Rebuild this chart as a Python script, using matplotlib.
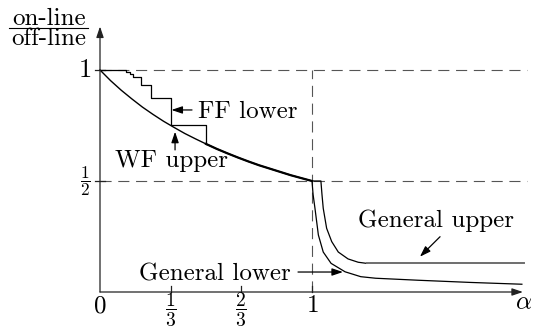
import matplotlib
matplotlib.use("Agg")
import matplotlib.pyplot as plt

plt.rcParams['mathtext.fontset'] = 'cm'
plt.rcParams['font.family'] = ['cmr10', 'DejaVu Serif']
plt.rcParams['axes.unicode_minus'] = False

# ---- data ----
# common curve (WF upper / FF lower beyond 1/2), alpha in [0, 1]
base_alpha = [0.0, 0.05, 0.1, 0.15, 0.2, 0.25, 0.3, 0.35, 0.4, 0.45, 0.5,
              0.55, 0.6, 0.65, 0.7, 0.75, 0.8, 0.85, 0.9, 0.95, 1.0]
base_ratio = [1.0, 0.952, 0.909, 0.870, 0.833, 0.800, 0.769, 0.741, 0.714, 0.690, 0.667,
              0.645, 0.625, 0.606, 0.588, 0.571, 0.556, 0.541, 0.526, 0.513, 0.5]

# FF lower staircase (left edges of steps and their levels)
ff_alpha = [0.0, 0.124, 0.140, 0.156, 0.195, 0.242, 0.333, 0.5]
ff_ratio = [1.0, 0.99, 0.98, 0.97, 0.932, 0.872, 0.752, 0.667]

# General lower bound
gl_alpha = [1.0, 1.005, 1.014, 1.03, 1.053, 1.09, 1.156, 1.23, 1.30, 1.5, 1.75, 1.99]
gl_ratio = [0.5, 0.44, 0.377, 0.257, 0.18, 0.129, 0.091, 0.069, 0.062, 0.053, 0.043, 0.035]

# General upper bound (curved part, then flat part)
gu_alpha = [1.0, 1.042, 1.047, 1.053, 1.069, 1.093, 1.124, 1.17, 1.218, 1.258]
gu_ratio = [0.5, 0.5, 0.44, 0.377, 0.287, 0.227, 0.18, 0.149, 0.134, 0.129]
gu_flat_alpha = [1.258, 2.0]
gu_flat_ratio = [0.129, 0.129]

xtick_vals = [0, 1/3, 2/3, 1]
xtick_labels = [r'$0$', r'$\dfrac{1}{3}$', r'$\dfrac{2}{3}$', r'$1$']
ytick_vals = [1.0, 0.5]
ytick_labels = [r'$1$', r'$\dfrac{1}{2}$']

# ---- figure ----
W, H = 538, 329
fig = plt.figure(figsize=(W / 100, H / 100), dpi=100)
ax = fig.add_axes([0, 0, 1, 1])
ax.set_xlim(-100 / 212, (W - 100) / 212)
ax.set_ylim((292 - H) / 222, 292 / 222)
ax.axis('off')

dash_kw = dict(color='#555555', lw=0.8, dashes=(10, 6))
ax.plot([0, 2.015], [1, 1], **dash_kw)
ax.plot([0, 2.015], [0.5, 0.5], **dash_kw)
ax.plot([1, 1], [0, 1.0], **dash_kw)

# axes with arrows
axis_col = '#222222'
head = dict(arrowstyle='-|>,head_length=0.65,head_width=0.22', color=axis_col,
            lw=0.9, mutation_scale=10, shrinkA=0, shrinkB=0)
ax.annotate('', xy=(1.995, 0), xytext=(0, 0), arrowprops=head)
ax.annotate('', xy=(0, 1.196), xytext=(0, 0), arrowprops=head)

# ticks
for xv in xtick_vals[1:]:
    ax.plot([xv, xv], [0, 0.026], color=axis_col, lw=0.9)
for yv in ytick_vals:
    ax.plot([-0.024, 0.024], [yv, yv], color=axis_col, lw=0.9)

# tick labels
for xv, lab in zip(xtick_vals, xtick_labels):
    if '{' in lab:
        ax.text(xv, -0.082, lab, ha='center', va='center', fontsize=14)
    else:
        ax.text(xv, -0.063, lab, ha='center', va='center', fontsize=18)
ax.text(-0.042, 1.0, ytick_labels[0], ha='right', va='center', fontsize=19)
ax.text(-0.045, 0.5, ytick_labels[1], ha='right', va='center', fontsize=12.5)

ax.text(2.0, -0.05, r'$\alpha$', ha='center', va='center', fontsize=18)

# y label as fraction
ax.text(-0.241, 1.203, 'on-line', ha='center', va='baseline', fontsize=18)
ax.text(-0.241, 1.113, 'off-line', ha='center', va='baseline', fontsize=18)
ax.plot([-0.429, -0.057], [1.19, 1.19], color='black', lw=0.8)

# curves
ax.plot(base_alpha, base_ratio, color='black', lw=1.0)
ax.plot(base_alpha[10:], base_ratio[10:], color='black', lw=1.6)
ax.step(ff_alpha, ff_ratio, where='post', color='black', lw=0.9)
ax.plot(gl_alpha, gl_ratio, color='black', lw=0.9)
ax.plot(gu_alpha, gu_ratio, color='black', lw=0.9)
ax.plot(gu_flat_alpha, gu_flat_ratio, color='#6e6e6e', lw=1.4)

# annotations
ann = dict(arrowstyle='-|>,head_length=0.65,head_width=0.22', color='black',
           lw=0.9, mutation_scale=10, shrinkA=0, shrinkB=0)
ax.annotate('', xy=(0.337, 0.82), xytext=(0.434, 0.82), arrowprops=ann)
ax.text(0.462, 0.782, 'FF lower', ha='left', va='baseline', fontsize=18)

ax.annotate('', xy=(0.354, 0.722), xytext=(0.354, 0.64), arrowprops=ann)
ax.text(0.071, 0.564, 'WF upper', ha='left', va='baseline', fontsize=18)

ax.annotate('', xy=(1.509, 0.159), xytext=(1.604, 0.249), arrowprops=ann)
ax.text(1.217, 0.291, 'General upper', ha='left', va='baseline', fontsize=18)

ax.annotate('', xy=(1.146, 0.09), xytext=(0.934, 0.09), arrowprops=ann)
ax.text(0.185, 0.0527, 'General lower', ha='left', va='baseline', fontsize=18)

fig.savefig('out.png', dpi=100)
